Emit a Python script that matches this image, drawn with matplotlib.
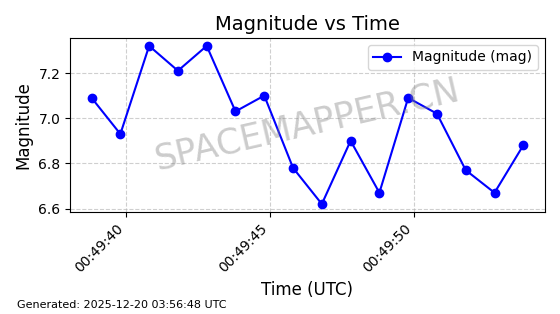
from datetime import datetime, timedelta

import matplotlib
matplotlib.use("Agg")
import matplotlib.pyplot as plt
import matplotlib.dates as mdates

# observation data (1 s cadence)
start_time = datetime(2025, 12, 20, 0, 49, 38, 800000)
magnitudes = [7.09, 6.93, 7.32, 7.21, 7.32, 7.03, 7.10, 6.78,
              6.62, 6.90, 6.67, 7.09, 7.02, 6.77, 6.67, 6.88]
times = [start_time + timedelta(seconds=i) for i in range(len(magnitudes))]

title = "Magnitude vs Time"
footer = "Generated: 2025-12-20 03:56:48 UTC"
watermark = "SPACEMAPPER.CN"

fig, ax = plt.subplots(figsize=(5.6, 3.14), dpi=100)
fig.subplots_adjust(left=0.125, right=0.973, top=0.879, bottom=0.325)

ax.plot(times, magnitudes, color="blue", marker="o", markersize=6,
        linewidth=1.5, label="Magnitude (mag)")

ax.set_title(title, fontsize=14)
ax.set_xlabel("Time (UTC)", fontsize=12)
ax.set_ylabel("Magnitude", fontsize=12)

ax.xaxis.set_major_locator(mdates.SecondLocator(bysecond=range(0, 60, 5)))
ax.xaxis.set_major_formatter(mdates.DateFormatter("%H:%M:%S"))
plt.setp(ax.get_xticklabels(), rotation=45, ha="right")

ax.grid(True, linestyle="--", alpha=0.6)
ax.legend(loc="upper right")

ax.text(0.5, 0.5, watermark, transform=ax.transAxes, fontsize=25,
        color="gray", alpha=0.4, rotation=13, ha="center", va="center")

fig.text(0.03, 0.02, footer, fontsize=8)

fig.savefig("out.png", dpi=100)
